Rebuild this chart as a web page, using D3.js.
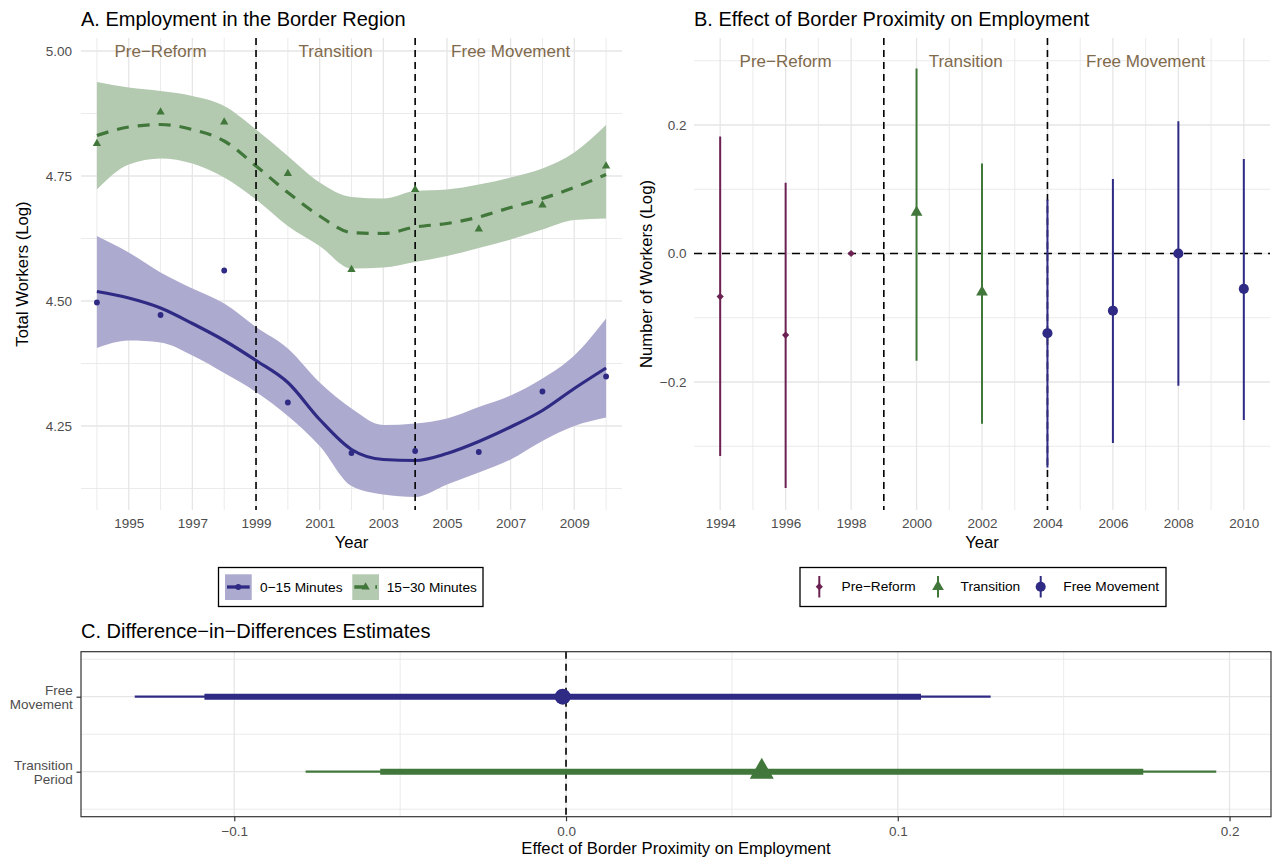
<!DOCTYPE html>
<html>
<head>
<meta charset="utf-8">
<script src="https://cdn.jsdelivr.net/npm/d3@7"></script>
<style>
  body { margin: 0; background: #ffffff; }
  text { font-family: "Liberation Sans", Arial, Helvetica, sans-serif; }
</style>
</head>
<body>
<svg id="chart" width="1274" height="859"></svg>
<script>
// ---------- Panel A: employment by travel-time band (loess fit with 95% band) ----------
const smoothYears = [1994, 1995, 1996, 1997, 1998, 1999, 2000, 2001, 2002, 2003, 2004, 2005, 2006, 2007, 2008, 2009, 2010];
const nearFit   = [4.519, 4.506, 4.486, 4.455, 4.421, 4.381, 4.337, 4.263, 4.203, 4.183, 4.181, 4.195, 4.219, 4.248, 4.281, 4.325, 4.366];
const nearUpper = [4.630, 4.597, 4.557, 4.525, 4.495, 4.448, 4.405, 4.337, 4.285, 4.252, 4.255, 4.265, 4.288, 4.311, 4.345, 4.391, 4.465];
const nearLower = [4.406, 4.421, 4.417, 4.391, 4.356, 4.318, 4.270, 4.210, 4.130, 4.113, 4.108, 4.133, 4.157, 4.183, 4.220, 4.250, 4.267];
const farFit    = [4.831, 4.848, 4.853, 4.843, 4.820, 4.770, 4.717, 4.670, 4.637, 4.635, 4.648, 4.655, 4.668, 4.687, 4.705, 4.727, 4.753];
const farUpper  = [4.938, 4.927, 4.920, 4.910, 4.890, 4.843, 4.790, 4.737, 4.708, 4.705, 4.720, 4.723, 4.733, 4.747, 4.765, 4.797, 4.852];
const farLower  = [4.723, 4.773, 4.785, 4.775, 4.747, 4.703, 4.650, 4.610, 4.565, 4.567, 4.578, 4.590, 4.606, 4.623, 4.643, 4.662, 4.665];

const obsYears = [1994, 1996, 1998, 2000, 2002, 2004, 2006, 2008, 2010];
const nearObs  = [4.497, 4.472, 4.561, 4.297, 4.196, 4.200, 4.198, 4.319, 4.349];
const farObs   = [4.815, 4.878, 4.858, 4.755, 4.563, 4.723, 4.644, 4.692, 4.770];

const groupLabels = ["0\u221215 Minutes", "15\u221230 Minutes"];
const yTicksA = [4.25, 4.50, 4.75, 5.00];
const xTicksA = [1995, 1997, 1999, 2001, 2003, 2005, 2007, 2009];

// ---------- Shared period definitions ----------
const periodNames  = ["Pre\u2212Reform", "Transition", "Free Movement"];
const periodBreaks = [1999, 2004];

// ---------- Panel B: event-study coefficients ----------
const esYears    = [1994, 1996, 1998, 2000, 2002, 2004, 2006, 2008, 2010];
const esPeriod   = ["Pre\u2212Reform", "Pre\u2212Reform", "Pre\u2212Reform", "Transition", "Transition",
                    "Free Movement", "Free Movement", "Free Movement", "Free Movement"];
const esEstimate = [-0.067, -0.127, 0.000, 0.064, -0.060, -0.124, -0.089, 0.000, -0.055];
const esLower    = [-0.315, -0.365, 0.000, -0.167, -0.265, -0.333, -0.295, -0.206, -0.259];
const esUpper    = [ 0.182,  0.110, 0.000,  0.288,  0.140,  0.084,  0.116,  0.206,  0.147];
const yTicksB = [-0.2, 0.0, 0.2];
const xTicksB = [1994, 1996, 1998, 2000, 2002, 2004, 2006, 2008, 2010];

// ---------- Panel C: difference-in-differences estimates ----------
const didTerms    = ["Free Movement", "Transition Period"];
const didEstimate = [-0.001, 0.059];
const didLower95  = [-0.130, -0.0785];
const didUpper95  = [ 0.128,  0.196];
const didLower90  = [-0.109, -0.056];
const didUpper90  = [ 0.107,  0.174];
const xTicksC = [-0.1, 0.0, 0.1, 0.2];

// ---------- Styling ----------
const NAVY = "#2F2A84", GREEN = "#41773A", PLUM = "#6B2152";
const BAND_NEAR = "#ACAACE", BAND_FAR = "#B3C9B0";
const GRID = "#E6E6E6", TICK_TXT = "#4D4D4D", NOTE = "#7F6A4C";
const TICK_SIZE = 13.5, AXIS_TITLE = "16.7px", TITLE = "20px", LEGEND_TXT = "13.7px";
const periodColor = { "Pre\u2212Reform": PLUM, "Transition": GREEN, "Free Movement": NAVY };

const svg = d3.select("#chart");
const fmtMinus = d3.format(".1f");

function styleTicks(g, size) {
  g.select(".domain").remove();
  g.selectAll("text").attr("fill", TICK_TXT).style("font-size", size + "px");
}

function gridLines(g, x, y, xMajor, xMinor, yMajor, yMinor) {
  const [x0, x1] = x.range(), [y1, y0] = y.range();
  const add = (vals, w, vertical) => g.selectAll(null).data(vals).join("line")
    .attr("x1", d => vertical ? x(d) : x0).attr("x2", d => vertical ? x(d) : x1)
    .attr("y1", d => vertical ? y0 : y(d)).attr("y2", d => vertical ? y1 : y(d))
    .attr("stroke", GRID).attr("stroke-width", w);
  add(xMinor, 0.8, true); add(yMinor, 0.8, false);
  add(xMajor, 1.3, true); add(yMajor, 1.3, false);
}

function symbolPath(kind, size) {
  if (kind === "triangle") return d3.symbol(d3.symbolTriangle, size)();
  if (kind === "diamond") return d3.symbol(d3.symbolSquare, size)();
  return d3.symbol(d3.symbolCircle, size)();
}

// =================== Panel A ===================
(function panelA() {
  const x = d3.scaleLinear().domain([1993.5, 2010.5]).range([81, 622]);
  const y = d3.scaleLinear().domain([4.082, 5.026]).range([510, 38]);
  const g = svg.append("g");

  gridLines(g, x, y, xTicksA, obsYears, yTicksA, [4.125, 4.375, 4.625, 4.875]);

  const bands = [
    { lo: nearLower, hi: nearUpper, fill: BAND_NEAR },
    { lo: farLower, hi: farUpper, fill: BAND_FAR }
  ];
  bands.forEach(b => {
    g.append("path")
      .datum(smoothYears.map((yr, i) => ({ yr, lo: b.lo[i], hi: b.hi[i] })))
      .attr("d", d3.area().x(d => x(d.yr)).y0(d => y(d.lo)).y1(d => y(d.hi)).curve(d3.curveMonotoneX))
      .attr("fill", b.fill);
  });

  const line = d3.line().x(d => x(d.yr)).y(d => y(d.v)).curve(d3.curveMonotoneX);
  g.append("path").datum(smoothYears.map((yr, i) => ({ yr, v: nearFit[i] })))
    .attr("d", line).attr("fill", "none").attr("stroke", NAVY).attr("stroke-width", 3.2);
  g.append("path").datum(smoothYears.map((yr, i) => ({ yr, v: farFit[i] })))
    .attr("d", line).attr("fill", "none").attr("stroke", GREEN).attr("stroke-width", 3.2)
    .attr("stroke-dasharray", "12,9");

  g.selectAll(null).data(periodBreaks).join("line")
    .attr("x1", d => x(d)).attr("x2", d => x(d)).attr("y1", 38).attr("y2", 510)
    .attr("stroke", "#000").attr("stroke-width", 1.6).attr("stroke-dasharray", "7,5");

  g.selectAll(null).data(obsYears).join("circle")
    .attr("cx", d => x(d)).attr("cy", (d, i) => y(nearObs[i])).attr("r", 2.9).attr("fill", NAVY);
  g.selectAll(null).data(obsYears).join("path")
    .attr("transform", (d, i) => `translate(${x(d)},${y(farObs[i])})`)
    .attr("d", symbolPath("triangle", 30)).attr("fill", GREEN);

  const noteYears = [1996, 2001.5, 2007];
  g.selectAll(null).data(periodNames).join("text")
    .attr("x", (d, i) => x(noteYears[i])).attr("y", y(5.0)).attr("dy", "0.35em")
    .attr("text-anchor", "middle").attr("fill", NOTE).style("font-size", "17px").text(d => d);

  g.append("g").attr("transform", "translate(81,0)")
    .call(d3.axisLeft(y).tickValues(yTicksA).tickFormat(d3.format(".2f")).tickSize(0).tickPadding(9))
    .call(a => styleTicks(a, TICK_SIZE));
  g.append("g").attr("transform", "translate(0,510)")
    .call(d3.axisBottom(x).tickValues(xTicksA).tickFormat(d3.format("d")).tickSize(0).tickPadding(8.2))
    .call(a => styleTicks(a, TICK_SIZE));

  svg.append("text").attr("x", 81).attr("y", 26).style("font-size", TITLE).text("A. Employment in the Border Region");
  svg.append("text").attr("x", 351.5).attr("y", 541.7).attr("dy", "0.35em").attr("text-anchor", "middle")
    .style("font-size", AXIS_TITLE).text("Year");
  svg.append("text").attr("transform", "translate(22,274) rotate(-90)").attr("dy", "0.35em")
    .attr("text-anchor", "middle").style("font-size", AXIS_TITLE).text("Total Workers (Log)");

  // legend
  const lg = svg.append("g");
  lg.append("rect").attr("x", 218.5).attr("y", 567.5).attr("width", 264.5).attr("height", 39)
    .attr("fill", "#fff").attr("stroke", "#000").attr("stroke-width", 1.3);
  const keys = [
    { x: 225, fill: BAND_NEAR, color: NAVY, dash: null, mark: "circle", tx: 260 },
    { x: 352.3, fill: BAND_FAR, color: GREEN, dash: "12,9", mark: "triangle", tx: 386.7 }
  ];
  keys.forEach((k, i) => {
    lg.append("rect").attr("x", k.x).attr("y", 574.3).attr("width", 26.7).attr("height", 25.7).attr("fill", k.fill);
    lg.append("line").attr("x1", k.x + 2).attr("x2", k.x + 24.7).attr("y1", 587).attr("y2", 587)
      .attr("stroke", k.color).attr("stroke-width", 3.3).attr("stroke-dasharray", k.dash);
    lg.append("path").attr("transform", `translate(${k.x + 13.3},587)`)
      .attr("d", symbolPath(k.mark, k.mark === "circle" ? 26 : 30)).attr("fill", k.color);
    lg.append("text").attr("x", k.tx).attr("y", 587).attr("dy", "0.35em").style("font-size", LEGEND_TXT).text(groupLabels[i]);
  });
})();

// =================== Panel B ===================
(function panelB() {
  const x = d3.scaleLinear().domain([1993.2, 2010.8]).range([694, 1270]);
  const y = d3.scaleLinear().domain([-0.3992, 0.3354]).range([510, 38]);
  const g = svg.append("g");

  gridLines(g, x, y, xTicksB, [1995, 1997, 1999, 2001, 2003, 2005, 2007, 2009], yTicksB, [-0.3, -0.1, 0.1, 0.3]);

  g.append("line").attr("x1", 694).attr("x2", 1270).attr("y1", y(0)).attr("y2", y(0))
    .attr("stroke", "#000").attr("stroke-width", 1.7).attr("stroke-dasharray", "8,6");
  g.selectAll(null).data(periodBreaks).join("line")
    .attr("x1", d => x(d)).attr("x2", d => x(d)).attr("y1", 38).attr("y2", 510)
    .attr("stroke", "#000").attr("stroke-width", 1.6).attr("stroke-dasharray", "7,5");

  g.selectAll(null).data(esYears).join("line")
    .attr("x1", d => x(d)).attr("x2", d => x(d))
    .attr("y1", (d, i) => y(esLower[i])).attr("y2", (d, i) => y(esUpper[i]))
    .attr("stroke", (d, i) => periodColor[esPeriod[i]]).attr("stroke-width", 2);

  const markOf = p => p === "Pre\u2212Reform" ? ["diamond", 26] : p === "Transition" ? ["triangle", 60] : ["circle", 80];
  g.selectAll(null).data(esYears).join("path")
    .attr("transform", (d, i) => `translate(${x(d)},${y(esEstimate[i])})` + (esPeriod[i] === "Pre\u2212Reform" ? " rotate(45)" : ""))
    .attr("d", (d, i) => symbolPath(...markOf(esPeriod[i])))
    .attr("fill", (d, i) => periodColor[esPeriod[i]]);

  const noteYears = [1996, 2001.5, 2007];
  g.selectAll(null).data(periodNames).join("text")
    .attr("x", (d, i) => x(noteYears[i])).attr("y", y(0.3)).attr("dy", "0.35em")
    .attr("text-anchor", "middle").attr("fill", NOTE).style("font-size", "17px").text(d => d);

  g.append("g").attr("transform", "translate(694,0)")
    .call(d3.axisLeft(y).tickValues(yTicksB).tickFormat(fmtMinus).tickSize(0).tickPadding(7.5))
    .call(a => styleTicks(a, TICK_SIZE));
  g.append("g").attr("transform", "translate(0,510)")
    .call(d3.axisBottom(x).tickValues(xTicksB).tickFormat(d3.format("d")).tickSize(0).tickPadding(8.2))
    .call(a => styleTicks(a, TICK_SIZE));

  svg.append("text").attr("x", 694).attr("y", 26).style("font-size", TITLE).text("B. Effect of Border Proximity on Employment");
  svg.append("text").attr("x", 982).attr("y", 541.7).attr("dy", "0.35em").attr("text-anchor", "middle")
    .style("font-size", AXIS_TITLE).text("Year");
  svg.append("text").attr("transform", "translate(646.5,274) rotate(-90)").attr("dy", "0.35em")
    .attr("text-anchor", "middle").style("font-size", AXIS_TITLE).text("Number of Workers (Log)");

  // legend
  const lg = svg.append("g");
  lg.append("rect").attr("x", 800).attr("y", 567.5).attr("width", 366).attr("height", 39)
    .attr("fill", "#fff").attr("stroke", "#000").attr("stroke-width", 1.3);
  const keyX = [819.3, 938, 1040.7], textX = [841.5, 960.6, 1063.3];
  periodNames.forEach((p, i) => {
    lg.append("line").attr("x1", keyX[i]).attr("x2", keyX[i]).attr("y1", 576).attr("y2", 597.5)
      .attr("stroke", periodColor[p]).attr("stroke-width", 2);
    const [kind, size] = markOf(p);
    lg.append("path").attr("transform", `translate(${keyX[i]},586.7)` + (kind === "diamond" ? " rotate(45)" : ""))
      .attr("d", symbolPath(kind, size)).attr("fill", periodColor[p]);
    lg.append("text").attr("x", textX[i]).attr("y", 586.7).attr("dy", "0.35em").style("font-size", LEGEND_TXT).text(p);
  });
})();

// =================== Panel C ===================
(function panelC() {
  const x = d3.scaleLinear().domain([-0.1462, 0.2125]).range([81, 1271]);
  const y = d3.scalePoint().domain(didTerms).range([651.7, 816.7]).padding(0.6);
  const g = svg.append("g");
  const step = y.step();

  // grid
  [-0.05, 0.05, 0.15].forEach(v => g.append("line").attr("x1", x(v)).attr("x2", x(v)).attr("y1", 651.7).attr("y2", 816.7)
    .attr("stroke", GRID).attr("stroke-width", 0.8));
  [y(didTerms[0]) - step / 2, y(didTerms[0]) + step / 2, y(didTerms[1]) + step / 2].forEach(v =>
    g.append("line").attr("x1", 81).attr("x2", 1271).attr("y1", v).attr("y2", v).attr("stroke", GRID).attr("stroke-width", 0.8));
  xTicksC.forEach(v => g.append("line").attr("x1", x(v)).attr("x2", x(v)).attr("y1", 651.7).attr("y2", 816.7)
    .attr("stroke", GRID).attr("stroke-width", 1.3));
  didTerms.forEach(t => g.append("line").attr("x1", 81).attr("x2", 1271).attr("y1", y(t)).attr("y2", y(t))
    .attr("stroke", GRID).attr("stroke-width", 1.3));

  g.append("line").attr("x1", x(0)).attr("x2", x(0)).attr("y1", 651.7).attr("y2", 816.7)
    .attr("stroke", "#000").attr("stroke-width", 1.6).attr("stroke-dasharray", "7,5");

  const colors = [NAVY, GREEN];
  didTerms.forEach((t, i) => {
    g.append("line").attr("x1", x(didLower95[i])).attr("x2", x(didUpper95[i])).attr("y1", y(t)).attr("y2", y(t))
      .attr("stroke", colors[i]).attr("stroke-width", 2.3);
    g.append("line").attr("x1", x(didLower90[i])).attr("x2", x(didUpper90[i])).attr("y1", y(t)).attr("y2", y(t))
      .attr("stroke", colors[i]).attr("stroke-width", 6);
    g.append("path").attr("transform", `translate(${x(didEstimate[i])},${y(t)})`)
      .attr("d", i === 0 ? symbolPath("circle", 200) : symbolPath("triangle", 250)).attr("fill", colors[i]);
  });

  g.append("rect").attr("x", 81).attr("y", 651.7).attr("width", 1190).attr("height", 165)
    .attr("fill", "none").attr("stroke", "#333").attr("stroke-width", 1.2);

  const ax = g.append("g").attr("transform", "translate(81,0)")
    .call(d3.axisLeft(y).tickSize(4.5).tickPadding(3.8));
  ax.select(".domain").remove();
  ax.selectAll(".tick line").attr("stroke", "#333").attr("stroke-width", 1.2);
  ax.selectAll(".tick text").each(function (d) {
    const el = d3.select(this).text(null).attr("fill", TICK_TXT).style("font-size", TICK_SIZE + "px").attr("dy", null);
    const parts = d.split(" ");
    el.append("tspan").attr("x", -8.3).attr("y", -2.2).text(parts[0]);
    el.append("tspan").attr("x", -8.3).attr("y", 11.6).text(parts[1]);
  });

  const bx = g.append("g").attr("transform", "translate(0,816.7)")
    .call(d3.axisBottom(x).tickValues(xTicksC).tickFormat(fmtMinus).tickSize(4.5).tickPadding(5));
  bx.select(".domain").remove();
  bx.selectAll(".tick line").attr("stroke", "#333").attr("stroke-width", 1.2);
  bx.selectAll(".tick text").attr("fill", TICK_TXT).style("font-size", TICK_SIZE + "px");

  svg.append("text").attr("x", 81).attr("y", 638).style("font-size", TITLE).text("C. Difference\u2212in\u2212Differences Estimates");
  svg.append("text").attr("x", 676).attr("y", 848).attr("dy", "0.35em").attr("text-anchor", "middle")
    .style("font-size", AXIS_TITLE).text("Effect of Border Proximity on Employment");
})();
</script>
</body>
</html>
